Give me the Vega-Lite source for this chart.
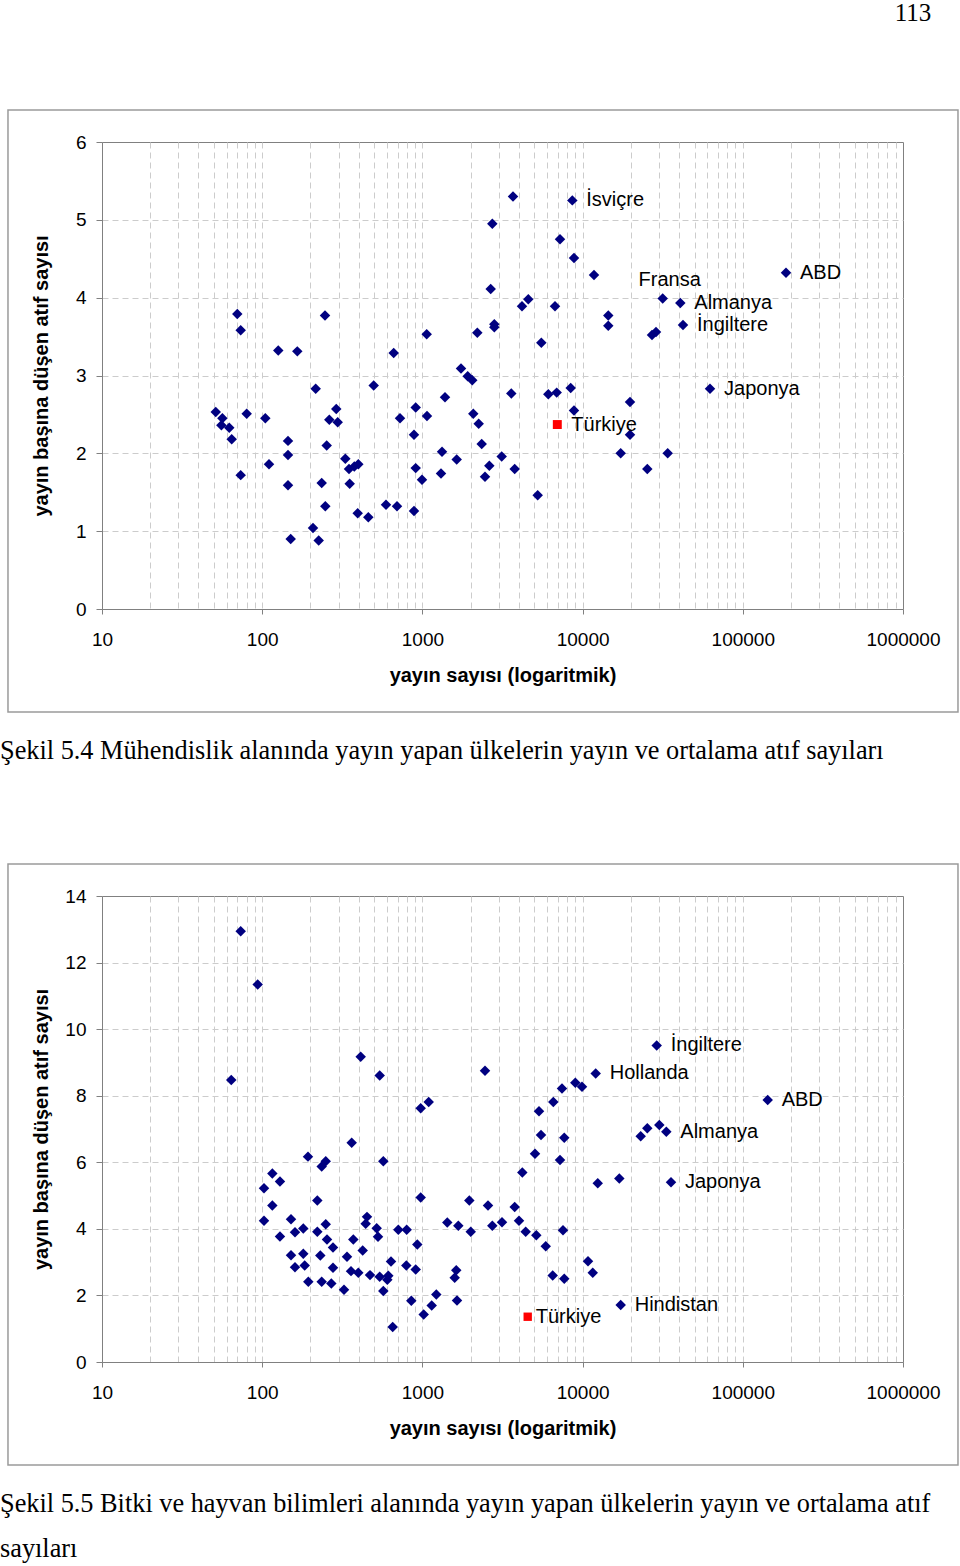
{
  "$schema": "https://vega.github.io/schema/vega-lite/v6.json",
  "background": "white",
  "padding": {"left": -1, "top": 0, "right": 0, "bottom": 0},
  "spacing": 97,
  "title": {"text": "113", "anchor": "end", "frame": "bounds", "orient": "top", "font": "Liberation Serif", "fontSize": 25, "fontWeight": "normal", "color": "#000000", "offset": 83, "dx": -28},
  "config": {
    "view": {"stroke": "#808080", "strokeWidth": 1},
    "axis": {"labelFont": "Liberation Sans", "titleFont": "Liberation Sans", "labelColor": "#000000", "titleColor": "#000000", "domainColor": "#808080", "tickColor": "#808080", "gridColor": "#cccccc", "gridDash": [6, 4], "labelFontSize": 19, "titleFontSize": 20, "titleFontWeight": "bold", "labelOverlap": false, "labelFlush": false}
  },
  "vconcat": [
    {
      "width": 801,
      "height": 467,
      "title": {"text": "Şekil 5.4 Mühendislik alanında yayın yapan ülkelerin yayın ve ortalama atıf sayıları", "orient": "bottom", "anchor": "start", "frame": "group", "dx": -102, "offset": 25, "baseline": "top", "font": "Liberation Serif", "fontSize": 26.3, "fontWeight": "normal", "color": "#000000"},
      "data": {"values": [
        {"x": 69.9, "y": 3.79, "label": ""}, {"x": 73.4, "y": 3.58, "label": ""}, {"x": 126, "y": 3.32, "label": ""}, {"x": 165.6, "y": 3.31, "label": ""},
        {"x": 246.6, "y": 3.77, "label": ""}, {"x": 1064, "y": 3.53, "label": ""}, {"x": 662, "y": 3.29, "label": ""}, {"x": 215.8, "y": 2.83, "label": ""},
        {"x": 496.6, "y": 2.87, "label": ""}, {"x": 51.3, "y": 2.53, "label": ""}, {"x": 56.4, "y": 2.45, "label": ""}, {"x": 55.6, "y": 2.36, "label": ""},
        {"x": 62.3, "y": 2.33, "label": ""}, {"x": 64.5, "y": 2.18, "label": ""}, {"x": 80, "y": 2.51, "label": ""}, {"x": 104.6, "y": 2.45, "label": ""},
        {"x": 73.4, "y": 1.72, "label": ""}, {"x": 110.3, "y": 1.86, "label": ""}, {"x": 144.9, "y": 2.16, "label": ""}, {"x": 144.9, "y": 1.98, "label": ""},
        {"x": 144.9, "y": 1.59, "label": ""}, {"x": 290, "y": 2.57, "label": ""}, {"x": 262.4, "y": 2.43, "label": ""}, {"x": 296, "y": 2.4, "label": ""},
        {"x": 252.7, "y": 2.1, "label": ""}, {"x": 330.2, "y": 1.93, "label": ""}, {"x": 348.3, "y": 1.8, "label": ""}, {"x": 375.7, "y": 1.83, "label": ""},
        {"x": 398, "y": 1.86, "label": ""}, {"x": 235.2, "y": 1.62, "label": ""}, {"x": 351.8, "y": 1.61, "label": ""}, {"x": 247.7, "y": 1.32, "label": ""},
        {"x": 394.6, "y": 1.23, "label": ""}, {"x": 459.6, "y": 1.18, "label": ""}, {"x": 592.8, "y": 1.34, "label": ""}, {"x": 694, "y": 1.32, "label": ""},
        {"x": 886.3, "y": 1.26, "label": ""}, {"x": 207.6, "y": 1.04, "label": ""}, {"x": 150.6, "y": 0.9, "label": ""}, {"x": 225.3, "y": 0.88, "label": ""},
        {"x": 724.6, "y": 2.45, "label": ""}, {"x": 908, "y": 2.59, "label": ""}, {"x": 1068, "y": 2.48, "label": ""}, {"x": 886, "y": 2.24, "label": ""},
        {"x": 908, "y": 1.81, "label": ""}, {"x": 994, "y": 1.66, "label": ""}, {"x": 1326, "y": 2.02, "label": ""}, {"x": 1307, "y": 1.74, "label": ""},
        {"x": 1384, "y": 2.72, "label": ""},
        {"x": 3677, "y": 5.3, "label": ""}, {"x": 8626, "y": 5.25, "label": "İsviçre"}, {"x": 2731, "y": 4.95, "label": ""}, {"x": 7226, "y": 4.75, "label": ""},
        {"x": 8835, "y": 4.51, "label": ""}, {"x": 11780, "y": 4.29, "label": ""}, {"x": 2669, "y": 4.11, "label": ""}, {"x": 4581, "y": 3.98, "label": ""},
        {"x": 4184, "y": 3.89, "label": ""}, {"x": 6725, "y": 3.89, "label": ""}, {"x": 14465, "y": 3.77, "label": ""}, {"x": 14465, "y": 3.64, "label": ""},
        {"x": 2811, "y": 3.66, "label": ""}, {"x": 2811, "y": 3.62, "label": ""}, {"x": 2202, "y": 3.55, "label": ""}, {"x": 5524, "y": 3.42, "label": ""},
        {"x": 1742, "y": 3.09, "label": ""}, {"x": 1918, "y": 2.99, "label": ""}, {"x": 2048, "y": 2.94, "label": ""}, {"x": 3588, "y": 2.77, "label": ""},
        {"x": 6108, "y": 2.76, "label": ""}, {"x": 6891, "y": 2.78, "label": ""}, {"x": 8428, "y": 2.84, "label": ""}, {"x": 19764, "y": 2.66, "label": ""},
        {"x": 8835, "y": 2.55, "label": ""}, {"x": 2078, "y": 2.51, "label": ""}, {"x": 2246, "y": 2.38, "label": ""}, {"x": 19764, "y": 2.24, "label": ""},
        {"x": 2345, "y": 2.12, "label": ""}, {"x": 1637, "y": 1.92, "label": ""}, {"x": 3126, "y": 1.96, "label": ""}, {"x": 2616, "y": 1.84, "label": ""},
        {"x": 3769, "y": 1.8, "label": ""}, {"x": 2459, "y": 1.7, "label": ""}, {"x": 17290, "y": 2.0, "label": ""}, {"x": 25340, "y": 1.8, "label": ""},
        {"x": 5245, "y": 1.46, "label": ""}, {"x": 6952, "y": 2.37, "label": "Türkiye"},
        {"x": 186100, "y": 4.32, "label": "ABD"}, {"x": 31620, "y": 3.99, "label": "Fransa"}, {"x": 40730, "y": 3.93, "label": "Almanya"},
        {"x": 42340, "y": 3.65, "label": "İngiltere"}, {"x": 27120, "y": 3.52, "label": ""}, {"x": 28720, "y": 3.56, "label": ""},
        {"x": 62430, "y": 2.83, "label": "Japonya"}, {"x": 33980, "y": 2.0, "label": ""}
      ]},
      "encoding": {
        "x": {"field": "x", "type": "quantitative",
          "scale": {"type": "log", "domain": [10, 1000000], "nice": false},
          "axis": {"values": [10,20,30,40,50,60,70,80,90,100,200,300,400,500,600,700,800,900,1000,2000,3000,4000,5000,6000,7000,8000,9000,10000,20000,30000,40000,50000,60000,70000,80000,90000,100000,200000,300000,400000,500000,600000,700000,800000,900000,1000000],
            "labelExpr": "abs(log(datum.value)/LN10 - round(log(datum.value)/LN10)) < 1e-6 ? format(datum.value, 'd') : ''",
            "tickOpacity": {"condition": {"test": "abs(log(datum.value)/LN10 - round(log(datum.value)/LN10)) < 1e-6", "value": 1}, "value": 0},
            "gridOpacity": {"condition": {"test": "datum.value >= 1000000", "value": 0}, "value": 1},
            "grid": true, "tickSize": 5, "labelPadding": 16, "title": "yayın sayısı (logaritmik)", "titlePadding": 16}},
        "y": {"field": "y", "type": "quantitative",
          "scale": {"domain": [0, 6], "nice": false, "zero": false},
          "axis": {"values": [0,1,2,3,4,5,6], "grid": true, "tickSize": 6, "labelPadding": 10,
            "gridOpacity": {"condition": {"test": "datum.value >= 6", "value": 0}, "value": 1},
            "title": "yayın başına düşen atıf sayısı", "titlePadding": 24}}
      },
      "layer": [
        {"data": {"values": [{"x": 2.589, "xe": 2204000, "y": -1.323, "ye": 6.411}]},
         "mark": {"type": "rect", "filled": false, "color": "#9a9a9a", "strokeWidth": 1.5},
         "encoding": {"x2": {"field": "xe"}, "y2": {"field": "ye"}}},
        {"transform": [{"filter": "datum.label != 'Türkiye'"}],
         "mark": {"type": "point", "shape": "diamond", "filled": true, "color": "#000080", "size": 110, "opacity": 1}},
        {"transform": [{"filter": "datum.label == 'Türkiye'"}],
         "mark": {"type": "point", "shape": "square", "filled": true, "color": "#ff0000", "size": 80, "opacity": 1}},
        {"transform": [{"filter": "datum.label != '' && datum.label != 'Fransa'"}],
         "mark": {"type": "text", "align": "left", "baseline": "middle", "dx": 14, "font": "Liberation Sans", "fontSize": 20, "color": "#000000"},
         "encoding": {"text": {"field": "label"}}},
        {"transform": [{"filter": "datum.label == 'Fransa'"}],
         "mark": {"type": "text", "align": "center", "baseline": "middle", "dx": 7, "dy": -18, "font": "Liberation Sans", "fontSize": 20, "color": "#000000"},
         "encoding": {"text": {"field": "label"}}}
      ]
    },
    {
      "width": 801,
      "height": 466,
      "title": {"text": ["Şekil 5.5 Bitki ve hayvan bilimleri alanında yayın yapan ülkelerin yayın ve ortalama atıf", "sayıları"], "orient": "bottom", "anchor": "start", "frame": "group", "dx": -102, "offset": 25, "baseline": "top", "lineHeight": 45, "font": "Liberation Serif", "fontSize": 26.3, "fontWeight": "normal", "color": "#000000"},
      "data": {"values": [
        {"x": 73.4, "y": 12.94, "label": ""}, {"x": 93.7, "y": 11.34, "label": ""}, {"x": 64.1, "y": 8.47, "label": ""}, {"x": 412, "y": 9.17, "label": ""},
        {"x": 541.4, "y": 8.61, "label": ""}, {"x": 975.9, "y": 7.62, "label": ""}, {"x": 1095, "y": 7.81, "label": ""}, {"x": 362, "y": 6.59, "label": ""},
        {"x": 193.1, "y": 6.17, "label": ""}, {"x": 249.2, "y": 6.03, "label": ""}, {"x": 235.2, "y": 5.87, "label": ""}, {"x": 570.2, "y": 6.03, "label": ""},
        {"x": 115.7, "y": 5.66, "label": ""}, {"x": 129.1, "y": 5.42, "label": ""}, {"x": 102.6, "y": 5.22, "label": ""}, {"x": 115.7, "y": 4.7, "label": ""},
        {"x": 220.8, "y": 4.85, "label": ""}, {"x": 975.9, "y": 4.94, "label": ""}, {"x": 102.6, "y": 4.24, "label": ""}, {"x": 151.3, "y": 4.29, "label": ""},
        {"x": 129.1, "y": 3.77, "label": ""}, {"x": 160.2, "y": 3.9, "label": ""}, {"x": 180.5, "y": 4.01, "label": ""}, {"x": 220.8, "y": 3.91, "label": ""},
        {"x": 249.2, "y": 4.14, "label": ""}, {"x": 253.9, "y": 3.68, "label": ""}, {"x": 276.7, "y": 3.44, "label": ""}, {"x": 151.3, "y": 3.21, "label": ""},
        {"x": 180.5, "y": 3.25, "label": ""}, {"x": 230.5, "y": 3.2, "label": ""}, {"x": 160.2, "y": 2.85, "label": ""}, {"x": 184.2, "y": 2.9, "label": ""},
        {"x": 276.7, "y": 2.83, "label": ""}, {"x": 194, "y": 2.41, "label": ""}, {"x": 235.2, "y": 2.41, "label": ""}, {"x": 270, "y": 2.36, "label": ""},
        {"x": 324, "y": 2.17, "label": ""}, {"x": 338.3, "y": 3.16, "label": ""}, {"x": 370.5, "y": 3.68, "label": ""}, {"x": 424, "y": 3.35, "label": ""},
        {"x": 451, "y": 4.36, "label": ""}, {"x": 442.7, "y": 4.15, "label": ""}, {"x": 518.5, "y": 4.02, "label": ""}, {"x": 528.3, "y": 3.76, "label": ""},
        {"x": 358.4, "y": 2.73, "label": ""}, {"x": 398, "y": 2.68, "label": ""}, {"x": 470.9, "y": 2.61, "label": ""}, {"x": 541.4, "y": 2.56, "label": ""},
        {"x": 612.9, "y": 2.59, "label": ""}, {"x": 603.9, "y": 2.47, "label": ""}, {"x": 636.8, "y": 3.02, "label": ""}, {"x": 570.2, "y": 2.13, "label": ""},
        {"x": 707.4, "y": 3.97, "label": ""}, {"x": 798, "y": 3.97, "label": ""}, {"x": 929.2, "y": 3.53, "label": ""}, {"x": 793.4, "y": 2.9, "label": ""},
        {"x": 908, "y": 2.78, "label": ""}, {"x": 652.5, "y": 1.05, "label": ""}, {"x": 852.4, "y": 1.84, "label": ""}, {"x": 1019, "y": 1.43, "label": ""},
        {"x": 1143, "y": 1.7, "label": ""}, {"x": 1221, "y": 2.03, "label": ""}, {"x": 1430, "y": 4.19, "label": ""},
        {"x": 2459, "y": 8.75, "label": ""}, {"x": 12070, "y": 8.67, "label": "Hollanda"}, {"x": 7435, "y": 8.22, "label": ""}, {"x": 9005, "y": 8.39, "label": ""},
        {"x": 9915, "y": 8.27, "label": ""}, {"x": 6563, "y": 7.81, "label": ""}, {"x": 5344, "y": 7.53, "label": ""}, {"x": 5500, "y": 6.82, "label": ""},
        {"x": 7685, "y": 6.74, "label": ""}, {"x": 5047, "y": 6.26, "label": ""}, {"x": 7226, "y": 6.07, "label": ""}, {"x": 4203, "y": 5.69, "label": ""},
        {"x": 12430, "y": 5.37, "label": ""}, {"x": 16950, "y": 5.51, "label": ""}, {"x": 1963, "y": 4.85, "label": ""}, {"x": 2567, "y": 4.7, "label": ""},
        {"x": 3769, "y": 4.66, "label": ""}, {"x": 1676, "y": 4.09, "label": ""}, {"x": 2003, "y": 3.91, "label": ""}, {"x": 2731, "y": 4.09, "label": ""},
        {"x": 3140, "y": 4.2, "label": ""}, {"x": 4009, "y": 4.24, "label": ""}, {"x": 4414, "y": 3.91, "label": ""}, {"x": 5140, "y": 3.81, "label": ""},
        {"x": 5886, "y": 3.48, "label": ""}, {"x": 7544, "y": 3.96, "label": ""}, {"x": 10810, "y": 3.03, "label": ""}, {"x": 11570, "y": 2.68, "label": ""},
        {"x": 6507, "y": 2.6, "label": ""}, {"x": 7685, "y": 2.5, "label": ""}, {"x": 1627, "y": 2.76, "label": ""}, {"x": 1591, "y": 2.53, "label": ""},
        {"x": 1644, "y": 1.85, "label": ""}, {"x": 4543, "y": 1.36, "label": "Türkiye"}, {"x": 17290, "y": 1.71, "label": "Hindistan"},
        {"x": 29010, "y": 9.51, "label": "İngiltere"}, {"x": 143000, "y": 7.87, "label": "ABD"}, {"x": 23050, "y": 6.78, "label": ""},
        {"x": 25340, "y": 7.02, "label": ""}, {"x": 30120, "y": 7.12, "label": ""}, {"x": 33310, "y": 6.92, "label": "Almanya"},
        {"x": 35630, "y": 5.4, "label": "Japonya"}
      ]},
      "encoding": {
        "x": {"field": "x", "type": "quantitative",
          "scale": {"type": "log", "domain": [10, 1000000], "nice": false},
          "axis": {"values": [10,20,30,40,50,60,70,80,90,100,200,300,400,500,600,700,800,900,1000,2000,3000,4000,5000,6000,7000,8000,9000,10000,20000,30000,40000,50000,60000,70000,80000,90000,100000,200000,300000,400000,500000,600000,700000,800000,900000,1000000],
            "labelExpr": "abs(log(datum.value)/LN10 - round(log(datum.value)/LN10)) < 1e-6 ? format(datum.value, 'd') : ''",
            "tickOpacity": {"condition": {"test": "abs(log(datum.value)/LN10 - round(log(datum.value)/LN10)) < 1e-6", "value": 1}, "value": 0},
            "gridOpacity": {"condition": {"test": "datum.value >= 1000000", "value": 0}, "value": 1},
            "grid": true, "tickSize": 5, "labelPadding": 16, "title": "yayın sayısı (logaritmik)", "titlePadding": 16}},
        "y": {"field": "y", "type": "quantitative",
          "scale": {"domain": [0, 14], "nice": false, "zero": false},
          "axis": {"values": [0,2,4,6,8,10,12,14], "grid": true, "tickSize": 6, "labelPadding": 10,
            "gridOpacity": {"condition": {"test": "datum.value >= 14", "value": 0}, "value": 1},
            "title": "yayın başına düşen atıf sayısı", "titlePadding": 13}}
      },
      "layer": [
        {"data": {"values": [{"x": 2.589, "xe": 2204000, "y": -3.094, "ye": 14.961}]},
         "mark": {"type": "rect", "filled": false, "color": "#9a9a9a", "strokeWidth": 1.5},
         "encoding": {"x2": {"field": "xe"}, "y2": {"field": "ye"}}},
        {"transform": [{"filter": "datum.label != 'Türkiye'"}],
         "mark": {"type": "point", "shape": "diamond", "filled": true, "color": "#000080", "size": 110, "opacity": 1}},
        {"transform": [{"filter": "datum.label == 'Türkiye'"}],
         "mark": {"type": "point", "shape": "square", "filled": true, "color": "#ff0000", "size": 70, "opacity": 1}},
        {"transform": [{"filter": "datum.label != '' && datum.label != 'Türkiye'"}],
         "mark": {"type": "text", "align": "left", "baseline": "middle", "dx": 14, "font": "Liberation Sans", "fontSize": 20, "color": "#000000"},
         "encoding": {"text": {"field": "label"}}},
        {"transform": [{"filter": "datum.label == 'Türkiye'"}],
         "mark": {"type": "text", "align": "left", "baseline": "middle", "dx": 8, "font": "Liberation Sans", "fontSize": 20, "color": "#000000"},
         "encoding": {"text": {"field": "label"}}}
      ]
    }
  ]
}
